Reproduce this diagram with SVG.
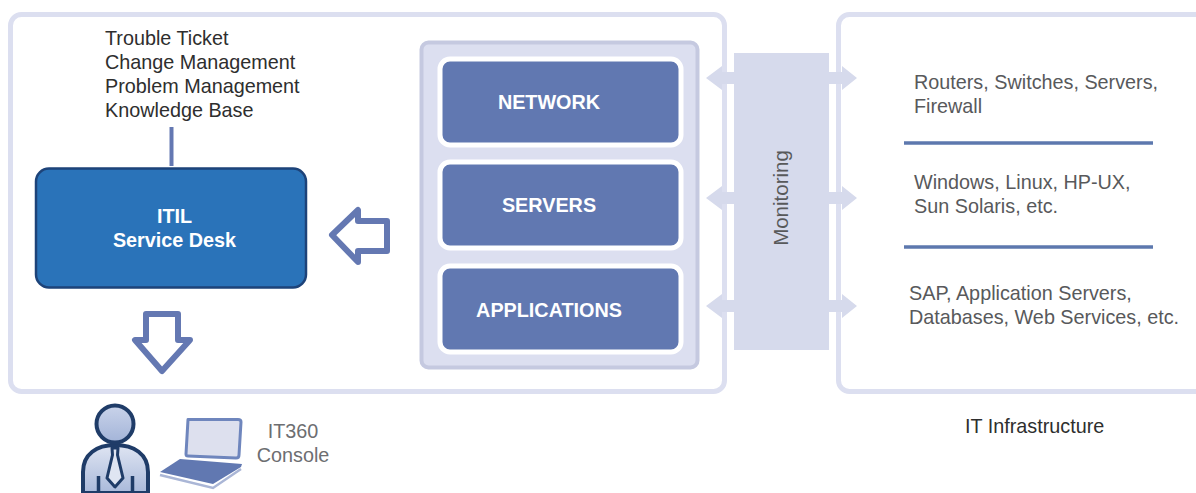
<svg xmlns="http://www.w3.org/2000/svg" width="1196" height="493" viewBox="0 0 1196 493">
<defs>
<linearGradient id="face" x1="0" y1="0" x2="0" y2="1"><stop offset="0" stop-color="#c9d3ea"/><stop offset="1" stop-color="#a3b4d8"/></linearGradient>
<linearGradient id="suit" x1="0" y1="0" x2="0" y2="1"><stop offset="0" stop-color="#dfe5f2"/><stop offset="1" stop-color="#a9b9da"/></linearGradient>
</defs>
<style>
text{font-family:"Liberation Sans",Arial,sans-serif}
.dark{font-size:19.8px;fill:#2e2e2e}
.gray{font-size:19.8px;fill:#58595b}
.w{font-size:19.8px;font-weight:bold;fill:#fff;text-anchor:middle}
.panel{fill:#fff;stroke:#dcdff0;stroke-width:5}
.card{fill:#6178b1;stroke:#fff;stroke-width:5}
.hollow{fill:#fff;stroke:#6478b2;stroke-width:6;stroke-linejoin:round}
.arrow{fill:#d6daec}
.rule{stroke:#5d78ae;stroke-width:3.5}
</style>
<rect width="1196" height="493" fill="#fff"/>
<g id="itil-panel"><rect class="panel" x="10.500" y="14.500" width="714" height="377" rx="11"/></g>
<g id="infrastructure-panel"><rect class="panel" x="838.500" y="14.500" width="370" height="377" rx="11"/>
<text x="965" y="433" class="dark">IT Infrastructure</text></g>
<g id="connectors">
<path class="arrow" d="M706 78L722 66V72H842V66L857 78L842 90V84H722V90Z"/>
<path class="arrow" d="M706 198L722 186V192H842V186L857 198L842 210V204H722V210Z"/>
<path class="arrow" d="M706 306L722 294V300H842V294L857 306L842 318V312H722V318Z"/>
<line x1="171.500" y1="127" x2="171.500" y2="166" stroke="#6478b2" stroke-width="4"/>
<path class="hollow" d="M332 235L358 210V221H387V251H358V262Z"/>
<path class="hollow" d="M146 314H178V340H190L162 371L135 340H146Z"/>
</g>
<g id="monitoring"><rect x="734" y="53" width="95" height="297" fill="#d6daec"/>
<text class="gray" transform="translate(788 198) rotate(-90)" text-anchor="middle" style="font-size:20.500px">Monitoring</text></g>
<g id="tools"><rect x="421.500" y="42.500" width="276" height="325" rx="7" fill="#dcdff0" stroke="#c5c9e0" stroke-width="4"/></g>
<g id="network"><rect class="card" x="440" y="59" width="241" height="86" rx="10"/><text class="w" x="549" y="109">NETWORK</text></g>
<g id="servers"><rect class="card" x="440" y="162" width="241" height="86" rx="10"/><text class="w" x="549" y="212">SERVERS</text></g>
<g id="applications"><rect class="card" x="440" y="266" width="241" height="86" rx="10"/><text class="w" x="549" y="317">APPLICATIONS</text></g>
<g id="service-desk"><rect x="36" y="168.500" width="270" height="119" rx="13" fill="#2a73b9" stroke="#1d4379" stroke-width="2.500"/>
<text class="w" x="174.500" y="223">ITIL</text><text class="w" x="174.500" y="247">Service Desk</text></g>
<g id="itil-list" class="dark">
<text x="105" y="45">Trouble Ticket</text><text x="105" y="69">Change Management</text><text x="105" y="93">Problem Management</text><text x="105" y="117">Knowledge Base</text></g>
<g id="infra-items" class="gray">
<text x="914" y="89">Routers, Switches, Servers,</text><text x="914" y="113">Firewall</text>
<line class="rule" x1="904" y1="143" x2="1153" y2="143"/>
<text x="914" y="189">Windows, Linux, HP-UX,</text><text x="914" y="213">Sun Solaris, etc.</text>
<line class="rule" x1="904" y1="247" x2="1153" y2="247"/>
<text x="909" y="300">SAP, Application Servers,</text><text x="909" y="324">Databases, Web Services, etc.</text></g>
<g id="console">
<path d="M83 493V472C83 454 97 445 115 445C134 445 148 454 148 472V493Z" fill="url(#suit)" stroke="#1f3c68" stroke-width="4"/>
<circle cx="115" cy="424" r="18.500" fill="url(#face)" stroke="#1f3c68" stroke-width="4"/>
<path d="M112 448H118L117.500 455L123 478L115 487L107 478L112.500 455Z" fill="#dfe5f2" stroke="#1f3c68" stroke-width="3" stroke-linejoin="round"/>
<path d="M98.500 476V493M132.500 476V493" stroke="#1f3c68" stroke-width="3.500"/>
<path d="M188 419.500H238Q241 419.500 241 422L239 455Q239 458 236 458L188 456Q186 456 186 454Z" fill="#dde0ee" stroke="#6f86bd" stroke-width="3" stroke-linejoin="round"/>
<path d="M180 459L242 464L241 467L213 484L160 472Z" fill="#6178b1"/>
<path d="M160 475L213 488L241 469" fill="none" stroke="#aab6d6" stroke-width="2.500"/>
<text class="gray" x="293" y="438" text-anchor="middle" style="fill:#6d6e71">IT360</text>
<text class="gray" x="293" y="462" text-anchor="middle" style="fill:#6d6e71">Console</text>
</g>
</svg>
